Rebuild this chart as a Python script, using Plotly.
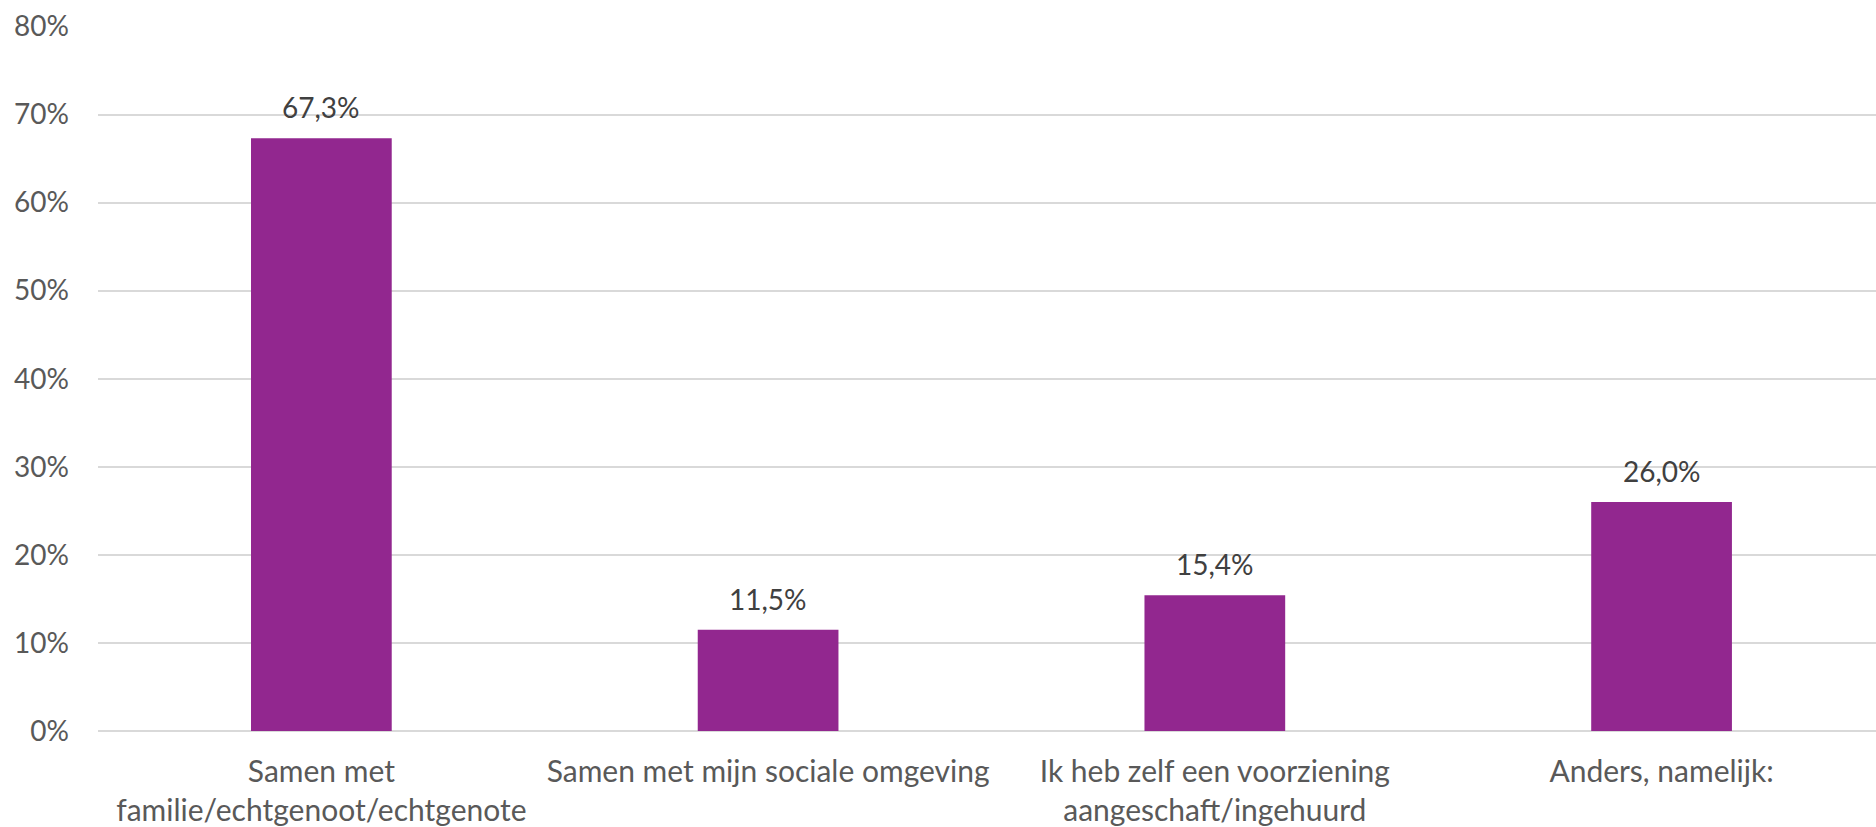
import plotly.graph_objects as go

categories = ["Samen met familie/echtgenoot/echtgenote",
              "Samen met mijn sociale omgeving",
              "Ik heb zelf een voorziening aangeschaft/ingehuurd",
              "Anders, namelijk:"]
tick_labels = ["Samen met<br>familie/echtgenoot/echtgenote",
               "Samen met mijn sociale omgeving",
               "Ik heb zelf een voorziening<br>aangeschaft/ingehuurd",
               "Anders, namelijk:"]
values = [67.3, 11.5, 15.4, 26.0]
y_ticks = [0, 10, 20, 30, 40, 50, 60, 70, 80]
y_tick_labels = ["0%", "10%", "20%", "30%", "40%", "50%", "60%", "70%", "80%"]

FONT = "Lato"

fig = go.Figure()
fig.add_trace(go.Bar(
    x=categories, y=values,
    marker=dict(color="#92278F", line=dict(width=0)),
    width=0.315,
    hoverinfo="skip",
))

for c, v in zip(categories, values):
    fig.add_annotation(x=c, y=v, text=f"{v:.1f}%".replace(".", ","),
                       showarrow=False, yanchor="bottom", yshift=12,
                       font=dict(family=FONT, size=28, color="#404040"))

fig.update_layout(
    width=1876, height=827,
    margin=dict(l=98, r=0, t=26, b=96),
    paper_bgcolor="white", plot_bgcolor="white",
    showlegend=False,
)
fig.update_xaxes(
    tickmode="array", tickvals=categories, ticktext=tick_labels,
    range=[-0.5, 3.48],
    showgrid=False, showline=False, ticks="",
    tickfont=dict(family=FONT, size=30, color="#595959"),
    ticklabelstandoff=20,
)
fig.update_yaxes(
    range=[0, 80.05], tickmode="array", tickvals=y_ticks, ticktext=y_tick_labels,
    showgrid=True, gridcolor="#d9d9d9", gridwidth=1.6,
    zeroline=True, zerolinecolor="#d9d9d9", zerolinewidth=1.6,
    showline=False, ticks="",
    tickfont=dict(family=FONT, size=28, color="#595959"),
    ticklabelstandoff=28,
)

fig.write_html("out.html")
